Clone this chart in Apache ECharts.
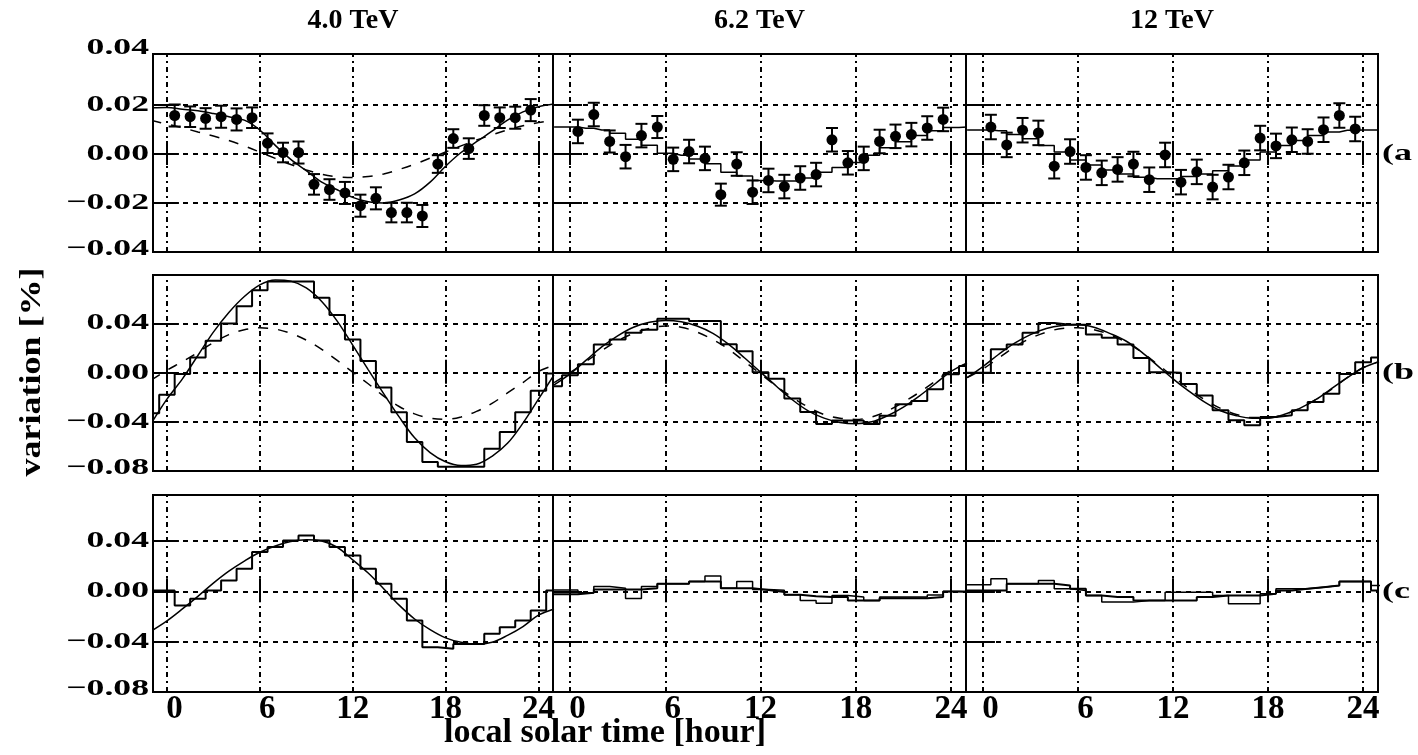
<!DOCTYPE html>
<html>
<head>
<meta charset="utf-8">
<script src="https://cdn.jsdelivr.net/npm/echarts@6/dist/echarts.min.js"></script>
<style>
  html, body { margin: 0; padding: 0; background: #fff; }
  #chart { width: 1418px; height: 755px; }
</style>
</head>
<body>
<div id="chart"></div>
<script>
// ---- labels ----
const panelTitles = ['4.0 TeV', '6.2 TeV', '12 TeV'];
const rowTags = ['(a', '(b', '(c'];
const xAxisTitle = 'local solar time [hour]';
const yAxisTitle = 'variation [%]';

// ---- tick values ----
const hourTicks = [0, 6, 12, 18, 24];
const yTicksTop = [-0.04, -0.02, 0, 0.02, 0.04];
const yTicksLower = [-0.08, -0.04, 0, 0.04];
const yGridTop = [-0.02, 0, 0.02];
const yGridLower = [-0.04, 0, 0.04];

// ---- hours ----
// hourly bins / curve samples, -1 h .. 25 h (27 values)
const binHours = [-1, 0, 1, 2, 3, 4, 5, 6, 7, 8, 9, 10, 11, 12, 13, 14, 15, 16, 17, 18, 19, 20, 21, 22, 23, 24, 25];
// measured points sit at the middle of each hour
const pointHours = [0.5, 1.5, 2.5, 3.5, 4.5, 5.5, 6.5, 7.5, 8.5, 9.5, 10.5, 11.5, 12.5, 13.5, 14.5, 15.5, 16.5, 17.5, 18.5, 19.5, 20.5, 21.5, 22.5, 23.5];

// ---- row (a): measured variation with errors, and fits ----
const ptsA_40 = [0.0157, 0.0152, 0.0145, 0.0152, 0.0141, 0.0148, 0.0044, 0.0006, 0.0006, -0.0124, -0.0145, -0.0159, -0.0211, -0.0181, -0.0239, -0.0239, -0.0253, -0.0041, 0.0063, 0.0022, 0.0157, 0.0148, 0.0148, 0.0179];
const errA_40 = [0.0045, 0.0042, 0.0042, 0.0045, 0.0045, 0.0042, 0.0040, 0.0040, 0.0045, 0.0042, 0.0042, 0.0045, 0.0045, 0.0045, 0.0040, 0.0040, 0.0045, 0.0036, 0.0038, 0.0042, 0.0042, 0.0042, 0.0045, 0.0045];
const fitA_40 = [0.0189, 0.0190, 0.0183, 0.0176, 0.0165, 0.0152, 0.0138, 0.0098, 0.0035, -0.0022, -0.0068, -0.0115, -0.0146, -0.0177, -0.0195, -0.0200, -0.0188, -0.0163, -0.0115, -0.0050, 0.0006, 0.0050, 0.0093, 0.0138, 0.0172, 0.0193, 0.0204];
const altA_40 = [0.0137, 0.0122, 0.0107, 0.0090, 0.0073, 0.0055, 0.0033, 0.0008, -0.0018, -0.0043, -0.0065, -0.0083, -0.0093, -0.0096, -0.0092, -0.0082, -0.0063, -0.0042, -0.0017, 0.0008, 0.0033, 0.0057, 0.0078, 0.0098, 0.0115, 0.0128, 0.0138];

const ptsA_62 = [0.0092, 0.0161, 0.0051, -0.0011, 0.0075, 0.0110, -0.0022, 0.0010, -0.0018, -0.0166, -0.0041, -0.0156, -0.0108, -0.0133, -0.0098, -0.0084, 0.0058, -0.0036, -0.0018, 0.0051, 0.0072, 0.0079, 0.0106, 0.0141];
const errA_62 = [0.0048, 0.0048, 0.0045, 0.0048, 0.0048, 0.0045, 0.0048, 0.0048, 0.0048, 0.0045, 0.0048, 0.0048, 0.0048, 0.0048, 0.0048, 0.0048, 0.0048, 0.0048, 0.0048, 0.0048, 0.0048, 0.0048, 0.0048, 0.0048];
const fitA_62 = [0.0110, 0.0110, 0.0105, 0.0098, 0.0085, 0.0060, 0.0036, 0.0003, -0.0005, -0.0020, -0.0040, -0.0075, -0.0090, -0.0108, -0.0110, -0.0110, -0.0098, -0.0075, -0.0055, -0.0035, -0.0005, 0.0025, 0.0050, 0.0075, 0.0095, 0.0108, 0.0110];

const ptsA_12 = [0.0110, 0.0037, 0.0097, 0.0086, -0.0050, 0.0010, -0.0055, -0.0077, -0.0063, -0.0041, -0.0105, -0.0004, -0.0115, -0.0073, -0.0135, -0.0094, -0.0036, 0.0065, 0.0033, 0.0058, 0.0051, 0.0099, 0.0157, 0.0102];
const errA_12 = [0.0050, 0.0050, 0.0050, 0.0050, 0.0050, 0.0050, 0.0050, 0.0050, 0.0050, 0.0050, 0.0050, 0.0050, 0.0050, 0.0050, 0.0050, 0.0050, 0.0050, 0.0050, 0.0050, 0.0050, 0.0050, 0.0050, 0.0050, 0.0050];
const fitA_12 = [0.0098, 0.0098, 0.0095, 0.0080, 0.0062, 0.0035, 0.0008, -0.0025, -0.0045, -0.0065, -0.0082, -0.0095, -0.0101, -0.0101, -0.0092, -0.0082, -0.0068, -0.0049, -0.0025, 0.0008, 0.0035, 0.0055, 0.0075, 0.0090, 0.0097, 0.0098, 0.0098];

// ---- row (b): hourly histogram, fit (solid) and model (dashed) ----
const histB_40 = [-0.033, -0.018, -0.001, 0.0123, 0.026, 0.040, 0.054, 0.067, 0.0742, 0.0742, 0.0742, 0.061, 0.047, 0.027, 0.0096, -0.012, -0.0322, -0.0564, -0.0726, -0.0766, -0.0766, -0.0766, -0.0618, -0.0483, -0.0322, -0.0147, -0.0006];
const fitB_40 = [-0.041, -0.0215, -0.005, 0.014, 0.033, 0.049, 0.062, 0.0715, 0.0755, 0.0745, 0.069, 0.058, 0.042, 0.0225, 0.0025, -0.017, -0.036, -0.053, -0.065, -0.0725, -0.0755, -0.0745, -0.068, -0.0575, -0.041, -0.0215, -0.002];
const altB_40 = [-0.006, 0.002, 0.009, 0.0165, 0.0245, 0.031, 0.035, 0.0365, 0.0355, 0.032, 0.0265, 0.019, 0.010, 0.0005, -0.009, -0.019, -0.0275, -0.0335, -0.037, -0.038, -0.036, -0.0315, -0.025, -0.0165, -0.008, 0.001, 0.006];

const histB_62 = [-0.011, -0.002, 0.0069, 0.023, 0.027, 0.0325, 0.035, 0.0438, 0.0438, 0.042, 0.042, 0.0231, 0.0175, 0.0003, -0.005, -0.021, -0.032, -0.0417, -0.039, -0.039, -0.0417, -0.035, -0.0256, -0.023, -0.0134, -0.0013, 0.0055];
const fitB_62 = [-0.010, -0.001, 0.010, 0.021, 0.030, 0.037, 0.041, 0.0425, 0.0415, 0.038, 0.032, 0.023, 0.012, 0.0005, -0.011, -0.022, -0.031, -0.037, -0.0405, -0.0415, -0.040, -0.035, -0.028, -0.019, -0.009, 0.001, 0.008];
const altB_62 = [-0.008, 0.000, 0.009, 0.018, 0.026, 0.032, 0.036, 0.038, 0.037, 0.033, 0.027, 0.019, 0.009, -0.001, -0.011, -0.020, -0.028, -0.034, -0.037, -0.038, -0.036, -0.031, -0.024, -0.016, -0.007, 0.002, 0.007];

const histB_12 = [0.000, 0.000, 0.019, 0.023, 0.0325, 0.0404, 0.039, 0.039, 0.031, 0.0285, 0.023, 0.012, 0.0003, 0.000, -0.0091, -0.0185, -0.0306, -0.0386, -0.0427, -0.036, -0.0346, -0.0306, -0.0239, -0.0172, -0.0011, 0.0084, 0.0124];
const fitB_12 = [-0.004, 0.005, 0.015, 0.024, 0.031, 0.036, 0.0385, 0.0392, 0.037, 0.032, 0.026, 0.017, 0.006, -0.005, -0.015, -0.024, -0.031, -0.035, -0.037, -0.037, -0.034, -0.029, -0.022, -0.013, -0.004, 0.004, 0.009];
const altB_12 = [-0.004, 0.003, 0.012, 0.021, 0.028, 0.033, 0.036, 0.0365, 0.035, 0.031, 0.025, 0.017, 0.007, -0.003, -0.013, -0.022, -0.029, -0.034, -0.0365, -0.0365, -0.034, -0.029, -0.022, -0.0135, -0.004, 0.004, 0.009];

// ---- row (c): hourly histograms and fit ----
const histC_40 = [0.0006, 0.0006, -0.0113, -0.006, 0.0006, 0.0086, 0.0179, 0.0312, 0.0352, 0.0404, 0.0444, 0.0404, 0.0352, 0.0285, 0.0179, 0.006, -0.006, -0.0232, -0.0444, -0.0457, -0.0418, -0.0418, -0.0338, -0.0285, -0.0232, -0.0153, 0.0006];
const fitC_40 = [-0.0315, -0.0235, -0.014, -0.004, 0.0065, 0.016, 0.024, 0.031, 0.036, 0.0395, 0.041, 0.040, 0.035, 0.025, 0.0145, 0.002, -0.011, -0.022, -0.0305, -0.037, -0.0405, -0.042, -0.0405, -0.035, -0.028, -0.019, -0.014];

const histC_62 = [0.001, 0.001, -0.0012, 0.0038, 0.0024, -0.0057, 0.0038, 0.006, 0.006, 0.0077, 0.0121, 0.0024, 0.0077, 0.0015, 0.0009, -0.0028, -0.0073, -0.0094, -0.0033, -0.0046, -0.0073, -0.0046, -0.0046, -0.0046, -0.003, -0.0001, -0.001];
const histC_62b = [-0.0023, -0.0023, -0.0012, 0.0015, 0.0015, 0.0015, 0.0025, 0.006, 0.006, 0.0077, 0.0077, 0.0024, 0.0024, 0.001, -0.0005, -0.0028, -0.004, -0.0046, -0.0046, -0.0073, -0.0073, -0.0055, -0.0055, -0.0055, -0.0046, -0.0001, -0.0001];

const histC_12 = [0.0052, 0.0052, 0.0099, 0.006, 0.006, 0.0086, 0.002, 0.0007, -0.0033, -0.0086, -0.0086, -0.0073, -0.0073, -0.0007, -0.0007, -0.0007, -0.0033, -0.0099, -0.0099, -0.002, 0.002, 0.002, 0.0033, 0.0046, 0.0078, 0.0078, 0.0046];
const histC_12b = [0.0007, 0.0007, 0.0007, 0.006, 0.006, 0.006, 0.0046, 0.002, -0.0033, -0.0046, -0.0046, -0.0073, -0.0073, -0.0073, -0.0073, -0.0046, -0.0033, -0.0033, -0.0033, -0.002, 0.0007, 0.002, 0.0033, 0.0046, 0.0078, 0.0078, 0.0007];

// ---- layout ----
const FONT = 'Liberation Serif';
const cols = [
  { left: 153, width: 400, xMin: -0.9, xMax: 24.94 },
  { left: 553, width: 413, xMin: -1.07, xMax: 24.94 },
  { left: 966, width: 412, xMin: -1.07, xMax: 24.94 }
];
const rows = [
  { top: 54, height: 198, yMin: -0.04, yMax: 0.0408, ticks: yTicksTop, grid: yGridTop },
  { top: 275, height: 196, yMin: -0.08, yMax: 0.0795, ticks: yTicksLower, grid: yGridLower },
  { top: 495, height: 197, yMin: -0.08, yMax: 0.0765, ticks: yTicksLower, grid: yGridLower }
];

const grids = [], xAxes = [], yAxes = [], series = [];
const tickStyle = { color: '#000', width: 2 };

rows.forEach((r) => {
  cols.forEach((c) => {
    grids.push({
      left: c.left, top: r.top, width: c.width, height: r.height,
      show: true, borderColor: '#000', borderWidth: 2, backgroundColor: 'transparent'
    });
  });
});

// bottom / top x axes, left / right y axes for each panel
for (let pass = 0; pass < 2; pass++) {
  rows.forEach((r, ri) => {
    cols.forEach((c, ci) => {
      const g = ri * 3 + ci;
      const isBottomRow = ri === 2 && pass === 0;
      xAxes.push({
        type: 'value', gridIndex: g, min: c.xMin, max: c.xMax,
        position: pass === 0 ? 'bottom' : 'top',
        axisLine: { show: false },
        splitLine: { show: false },
        axisTick: { show: true, inside: true, length: pass === 0 ? 13 : 11, lineStyle: tickStyle, customValues: hourTicks },
        axisLabel: {
          show: isBottomRow, customValues: hourTicks, margin: 1,
          color: '#000', fontFamily: FONT, fontWeight: 'bold', fontSize: 33,
          formatter: v => (String(v).length === 1 ? '{p|' + v + '}' : '{n|' + v + '}'),
          rich: {
            p: { padding: [0, 0, 0, 15], fontFamily: FONT, fontWeight: 'bold', fontSize: 33, color: '#000' },
            n: { fontFamily: FONT, fontWeight: 'bold', fontSize: 33, color: '#000' }
          }
        }
      });
      yAxes.push({
        type: 'value', gridIndex: g, min: r.yMin, max: r.yMax,
        position: pass === 0 ? 'left' : 'right',
        axisLine: { show: false },
        splitLine: { show: false },
        axisTick: { show: true, inside: true, length: 12, lineStyle: tickStyle, customValues: r.grid },
        axisLabel: { show: false }
      });
    });
  });
}

// dashed grid lines, placed through the axes of each panel
rows.forEach((r, ri) => {
  cols.forEach((c, ci) => {
    const g = ri * 3 + ci;
    series.push({
      type: 'line', xAxisIndex: g, yAxisIndex: g, data: [], silent: true, showSymbol: false,
      markLine: {
        silent: true, symbol: 'none', animation: false, label: { show: false },
        lineStyle: { color: '#000', width: 2, type: [5, 5] },
        data: r.grid.map(v => ({ yAxis: v }))
      }
    });
    series.push({
      type: 'line', xAxisIndex: g, yAxisIndex: g, data: [], silent: true, showSymbol: false,
      markLine: {
        silent: true, symbol: 'none', animation: false, label: { show: false },
        lineStyle: { color: '#000', width: 2, type: [5, 4, 2, 4] },
        data: hourTicks.map(v => ({ xAxis: v }))
      }
    });
  });
});

function histSeries(g, vals, width) {
  const data = binHours.map((h, i) => [h - 0.5, vals[i]]);
  data.push([binHours[binHours.length - 1] + 0.5, vals[vals.length - 1]]);
  return {
    type: 'line', xAxisIndex: g, yAxisIndex: g, data, step: 'end', showSymbol: false,
    clip: true, silent: true, animation: false,
    lineStyle: { color: '#000', width: width || 2 }
  };
}
function curveSeries(g, vals, opts) {
  opts = opts || {};
  return {
    type: 'line', xAxisIndex: g, yAxisIndex: g,
    data: binHours.map((h, i) => [h, vals[i]]),
    smooth: opts.step ? false : 0.35, step: opts.step || false,
    showSymbol: false, clip: true, silent: true, animation: false,
    lineStyle: { color: '#000', width: opts.width || 1.5, type: opts.dash || 'solid' }
  };
}
function errorSeries(g, vals, errs) {
  return {
    type: 'custom', xAxisIndex: g, yAxisIndex: g, silent: true, animation: false, clip: true,
    data: pointHours.map((h, i) => [h, vals[i], errs[i]]),
    encode: { x: 0, y: 1 },
    renderItem(params, api) {
      const x = api.value(0), y = api.value(1), e = api.value(2);
      const c = api.coord([x, y]);
      const hi = api.coord([x, y + e]);
      const lo = api.coord([x, y - e]);
      const w = 6;
      const st = { stroke: '#000', lineWidth: 2 };
      return {
        type: 'group',
        children: [
          { type: 'line', shape: { x1: c[0], y1: hi[1], x2: c[0], y2: lo[1] }, style: st },
          { type: 'line', shape: { x1: c[0] - w, y1: hi[1], x2: c[0] + w, y2: hi[1] }, style: st },
          { type: 'line', shape: { x1: c[0] - w, y1: lo[1], x2: c[0] + w, y2: lo[1] }, style: st },
          { type: 'circle', shape: { cx: c[0], cy: c[1], r: 5.5 }, style: { fill: '#000' } }
        ]
      };
    }
  };
}

const DASH = [10, 10];
// row (a)
series.push(curveSeries(0, fitA_40));
series.push(curveSeries(0, altA_40, { dash: DASH }));
series.push(errorSeries(0, ptsA_40, errA_40));
series.push(curveSeries(1, fitA_62, { step: 'middle' }));
series.push(errorSeries(1, ptsA_62, errA_62));
series.push(curveSeries(2, fitA_12, { step: 'middle' }));
series.push(errorSeries(2, ptsA_12, errA_12));
// row (b)
series.push(histSeries(3, histB_40));
series.push(curveSeries(3, fitB_40));
series.push(curveSeries(3, altB_40, { dash: DASH }));
series.push(histSeries(4, histB_62));
series.push(curveSeries(4, fitB_62));
series.push(curveSeries(4, altB_62, { dash: DASH }));
series.push(histSeries(5, histB_12));
series.push(curveSeries(5, fitB_12));
series.push(curveSeries(5, altB_12, { dash: DASH }));
// row (c)
series.push(histSeries(6, histC_40));
series.push(curveSeries(6, fitC_40));
series.push(histSeries(7, histC_62, 1.5));
series.push(histSeries(7, histC_62b, 2));
series.push(histSeries(8, histC_12, 1.5));
series.push(histSeries(8, histC_12b, 2));

const chart = echarts.init(document.getElementById('chart'), null, { renderer: 'canvas' });
chart.setOption({
  animation: false,
  backgroundColor: '#fff',
  textStyle: { fontFamily: FONT },
  grid: grids,
  xAxis: xAxes,
  yAxis: yAxes,
  series
});

// texts around the panels
const labelFont = { fontFamily: FONT, fontWeight: 'bold', fill: '#000' };
const graphics = [];
const fmt = v => (v === 0 ? '0.00' : (v < 0 ? '\u2212' : '') + Math.abs(v).toFixed(2));
rows.forEach((r, ri) => {
  const top = r.ticks[r.ticks.length - 1];
  const bottom = r.ticks[0];
  r.ticks.forEach(v => {
    let py = chart.convertToPixel({ yAxisIndex: ri * 3 }, v);
    // edge labels sit just inside the frame height
    if (ri === 0 && v === top) py -= 8;
    if (v === bottom) py -= 3;
    graphics.push({
      type: 'text', x: 149, y: py, scaleX: 1.55, silent: true,
      style: Object.assign({ text: fmt(v), fontSize: 23, align: 'right', verticalAlign: 'middle' }, labelFont)
    });
  });
  const pz = chart.convertToPixel({ yAxisIndex: ri * 3 + 2 }, 0);
  graphics.push({
    type: 'text', x: 1382, y: pz, scaleX: 1.5, silent: true,
    style: Object.assign({ text: rowTags[ri], fontSize: 24, align: 'left', verticalAlign: 'middle' }, labelFont)
  });
});
cols.forEach((c, ci) => {
  graphics.push({
    type: 'text', x: c.left + c.width / 2, y: 21, silent: true,
    style: Object.assign({ text: panelTitles[ci], fontSize: 28, align: 'center', verticalAlign: 'middle' }, labelFont)
  });
});
graphics.push({
  type: 'text', x: 605, y: 733, silent: true,
  style: Object.assign({ text: xAxisTitle, fontSize: 34, align: 'center', verticalAlign: 'middle' }, labelFont)
});
graphics.push({
  type: 'text', x: 32, y: 372, rotation: Math.PI / 2, scaleX: 1.2, silent: true,
  style: Object.assign({ text: yAxisTitle, fontSize: 30, align: 'center', verticalAlign: 'middle' }, labelFont)
});
chart.setOption({ graphic: graphics });
</script>
</body>
</html>
